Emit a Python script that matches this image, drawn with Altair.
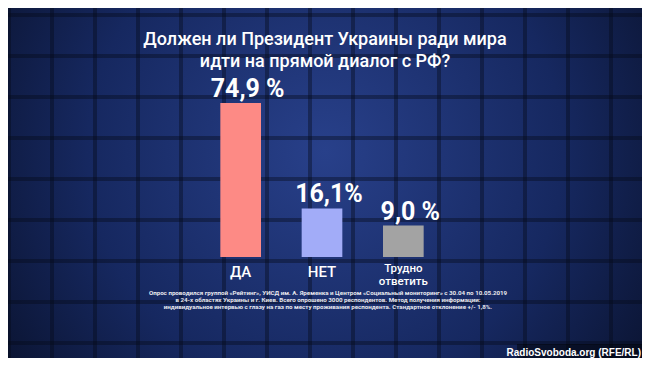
import altair as alt
import pandas as pd

# ---- data ----
categories = ["ДА", "НЕТ", "Трудно\nответить"]
values = [74.9, 16.1, 9.0]
value_labels = ["74,9 %", "16,1%", "9,0 %"]
bar_colors = ["#fd8a85", "#a2acf8", "#a3a3a3"]

title_text = "Должен ли Президент Украины ради мира\nидти на прямой диалог с РФ?"
note_text = (
    "Опрос проводился группой «Рейтинг», УИСД им. А. Яременка и Центром «Социальный мониторинг» с 30.04 по 10.05.2019\n"
    "в 24-х областях Украины и г. Киев. Всего опрошено 3000 респондентов. Метод получения информации:\n"
    "индивидуальное интервью с глазу на газ по месту проживания респондента. Стандартное отклонение +/- 1,8%."
)
credit_text = "RadioSvoboda.org (RFE/RL)"

grid_cols = list(range(16))
grid_rows = list(range(9))

W, H = 634, 350
FONT = "Roboto"

df = pd.DataFrame({"cat": categories, "val": values, "lab": value_labels})

x_enc = alt.X("cat:N", sort=categories, axis=None,
              scale=alt.Scale(domain=categories, range=[192, 436],
                              paddingInner=0.5, paddingOuter=0.25))
y_scale = alt.Scale(type="pow", exponent=0.75, domain=[0, 74.9], range=[249, 95])

one = pd.DataFrame({"k": [0]})

# background gradient
bg = alt.Chart(one).mark_rect(
    color=alt.RadialGradient(
        gradient="radial",
        stops=[alt.GradientStop(offset=0, color="#28408a"),
               alt.GradientStop(offset=0.5, color="#162860"),
               alt.GradientStop(offset=1, color="#040816")],
        x1=0.5, y1=0.45, r1=0, x2=0.5, y2=0.45, r2=0.75,
    )
).encode(x=alt.value(0), x2=alt.value(W), y=alt.value(0), y2=alt.value(H))

vgrid = alt.Chart(pd.DataFrame({"c": grid_cols})).mark_rule(
    color="#050a1a", strokeWidth=4, opacity=0.4
).encode(
    x=alt.X("c:Q", axis=None, scale=alt.Scale(domain=[0, 15], range=[1, 646])),
    y=alt.value(0), y2=alt.value(H),
)
hgrid = alt.Chart(pd.DataFrame({"r": grid_rows})).mark_rule(
    color="#050a1a", strokeWidth=4, opacity=0.4
).encode(
    y=alt.Y("r:Q", axis=None, scale=alt.Scale(domain=[0, 8], range=[7, 335])),
    x=alt.value(0), x2=alt.value(W),
)

bars = alt.Chart(df).mark_bar().encode(
    x=x_enc,
    y=alt.Y("val:Q", scale=y_scale, axis=None),
    color=alt.Color("cat:N", sort=categories, legend=None,
                    scale=alt.Scale(domain=categories, range=bar_colors)),
)

vals = alt.Chart(df).mark_text(
    font=FONT, fontSize=25, fontWeight="bold", color="white",
    baseline="alphabetic", dy=-6, dx=7
).encode(x=x_enc, y=alt.Y("val:Q", scale=y_scale, axis=None), text="lab:N")

cat_big = alt.Chart(df).transform_filter(
    alt.datum.cat != categories[2]
).mark_text(
    font=FONT, fontSize=15, fontWeight=500, color="white", baseline="top", dy=8
).encode(x=x_enc, y=alt.value(249), text="cat:N")

cat_small = alt.Chart(df).transform_filter(
    alt.datum.cat == categories[2]
).mark_text(
    font=FONT, fontSize=11.5, fontWeight=500, color="white", baseline="top", dy=6,
    lineBreak="\n", lineHeight=13
).encode(x=x_enc, y=alt.value(249), text="cat:N")

title = alt.Chart(one).mark_text(
    font=FONT, fontSize=18, fontWeight=500, color="white", align="center",
    baseline="alphabetic", lineBreak="\n", lineHeight=22
).encode(x=alt.value(W / 2), y=alt.value(37), text=alt.value(title_text))

note = alt.Chart(one).mark_text(
    font=FONT, fontSize=6.2, fontWeight="bold", color="#e8e8ee", align="center",
    baseline="alphabetic", lineBreak="\n", lineHeight=7
).encode(x=alt.value(W / 2 + 3), y=alt.value(287), text=alt.value(note_text))

credit_box = alt.Chart(one).mark_rect(color="#000000", opacity=0.45).encode(
    x=alt.value(509), x2=alt.value(W), y=alt.value(336), y2=alt.value(H)
)
credit = alt.Chart(one).mark_text(
    font="Liberation Sans", fontSize=10, fontWeight="bold", color="white",
    align="right", baseline="alphabetic"
).encode(x=alt.value(W - 1), y=alt.value(348), text=alt.value(credit_text))

chart = alt.layer(
    bg, vgrid, hgrid, bars, vals, cat_big, cat_small, title, note, credit_box, credit
).resolve_scale(x="independent", y="independent", color="independent").properties(
    width=W, height=H, autosize=alt.AutoSizeParams(type="none"), padding=0,
    background="#0a1330"
).configure_view(stroke=None)

chart.save("out.html", embed_options={"renderer": "svg", "actions": False})
